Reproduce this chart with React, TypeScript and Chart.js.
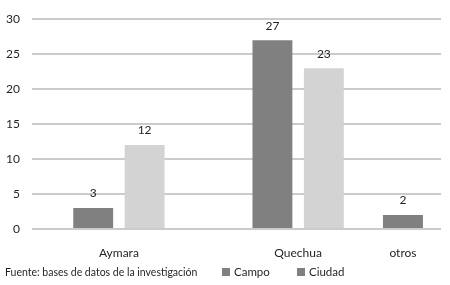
import React, { useEffect, useRef } from "react";
import { Chart, registerables, CategoryScale } from "chart.js";

Chart.register(...registerables);

// ---- data ----
const categories = ["Aymara", "Quechua", "otros"];
const seriesNames = ["Campo", "Ciudad"];
const campoValues: (number | null)[] = [3, 27, 2];
const ciudadValues: (number | null)[] = [12, 23, null];
const yTickValues = [0, 5, 10, 15, 20, 25, 30];
const sourceNote = "Fuente: bases de datos de la investigación";

// ---- style / layout ----
const FONT = "Lato, 'Open Sans', sans-serif";
const TEXT = "#231f20";
const CAMPO_COLOR = "#808081";
const CIUDAD_COLOR = "#d3d3d4";
const LEGEND_SWATCH = "#808081"; // the original legend shows both swatches in the dark grey
const GRID = "#cbcbcb";
// the original chart places its category groups unevenly across the plot
const CATEGORY_CENTRES = [0.2125, 0.6507, 0.907];

class PlacedCategoryScale extends (CategoryScale as any) {
  static id = "placedCategory";
  static defaults = (CategoryScale as any).defaults;
  getPixelForValue(value: any) {
    const v = typeof value === "number" ? value : (this as any).parse(value);
    const f = CATEGORY_CENTRES[v as number];
    if (f === undefined) return super.getPixelForValue(value);
    return (this as any).getPixelForDecimal(f);
  }
}
Chart.register(PlacedCategoryScale as any);

const valueLabels = {
  id: "valueLabels",
  afterDatasetsDraw(chart: any) {
    const { ctx } = chart;
    ctx.save();
    ctx.font = `12px ${FONT}`;
    ctx.fillStyle = TEXT;
    ctx.textAlign = "center";
    ctx.textBaseline = "middle";
    chart.data.datasets.forEach((ds: any, di: number) => {
      const meta = chart.getDatasetMeta(di);
      meta.data.forEach((el: any, i: number) => {
        const v = ds.data[i];
        if (v === null || v === undefined) return;
        ctx.fillText(String(v), el.x, el.y - 14.5);
      });
    });
    ctx.restore();
  },
};

export default function App() {
  const canvasRef = useRef<HTMLCanvasElement | null>(null);

  useEffect(() => {
    if (!canvasRef.current) return;
    const barCommon = {
      categoryPercentage: 0.981,
      barPercentage: 0.776,
      maxBarThickness: 40,
      skipNull: true,
      borderWidth: 0,
    };
    const chart = new Chart(canvasRef.current, {
      type: "bar",
      data: {
        labels: categories,
        datasets: [
          { label: seriesNames[0], data: campoValues, backgroundColor: CAMPO_COLOR, ...barCommon },
          { label: seriesNames[1], data: ciudadValues, backgroundColor: CIUDAD_COLOR, ...barCommon },
        ],
      } as any,
      options: {
        animation: false,
        responsive: false,
        maintainAspectRatio: false,
        layout: { padding: { top: 10, right: 9, bottom: 0, left: 0 } },
        plugins: {
          legend: { display: false },
          tooltip: { enabled: false },
          title: { display: false },
        },
        scales: {
          x: {
            type: "placedCategory" as any,
            grid: { display: false },
            border: { display: false },
            ticks: {
              color: TEXT,
              font: { family: FONT, size: 12 },
              padding: 9,
              maxRotation: 0,
              autoSkip: false,
            },
            afterFit: (s: any) => {
              s.height = 56;
            },
          },
          y: {
            min: yTickValues[0],
            max: yTickValues[yTickValues.length - 1],
            grid: { color: GRID, lineWidth: 2, drawTicks: false },
            border: { display: false },
            afterBuildTicks: (s: any) => {
              s.ticks = yTickValues.map((v) => ({ value: v }));
            },
            ticks: {
              color: TEXT,
              font: { family: FONT, size: 12 },
              padding: 12,
            },
            afterFit: (s: any) => {
              s.width = 32;
            },
          },
        },
      } as any,
      plugins: [valueLabels],
    });
    return () => chart.destroy();
  }, []);

  return (
    <div style={{ position: "fixed", left: 0, top: 0, width: 450, height: 285, background: "#fff" }}>
      <canvas ref={canvasRef} width={450} height={285} style={{ width: 450, height: 285, display: "block" }} />
      <div
        style={{
          position: "absolute",
          left: 5,
          top: 264,
          fontFamily: FONT,
          fontSize: 10.5,
          color: TEXT,
          lineHeight: "16px",
          whiteSpace: "nowrap",
        }}
      >
        {sourceNote}
      </div>
      {seriesNames.map((name, i) => (
        <div
          key={name}
          style={{
            position: "absolute",
            left: i === 0 ? 222 : 297,
            top: 264,
            display: "flex",
            alignItems: "center",
            fontFamily: FONT,
            fontSize: 11.5,
            color: TEXT,
            lineHeight: "16px",
            whiteSpace: "nowrap",
          }}
        >
          <span style={{ display: "inline-block", width: 8, height: 8, background: LEGEND_SWATCH, marginRight: 4 }} />
          {name}
        </div>
      ))}
    </div>
  );
}
